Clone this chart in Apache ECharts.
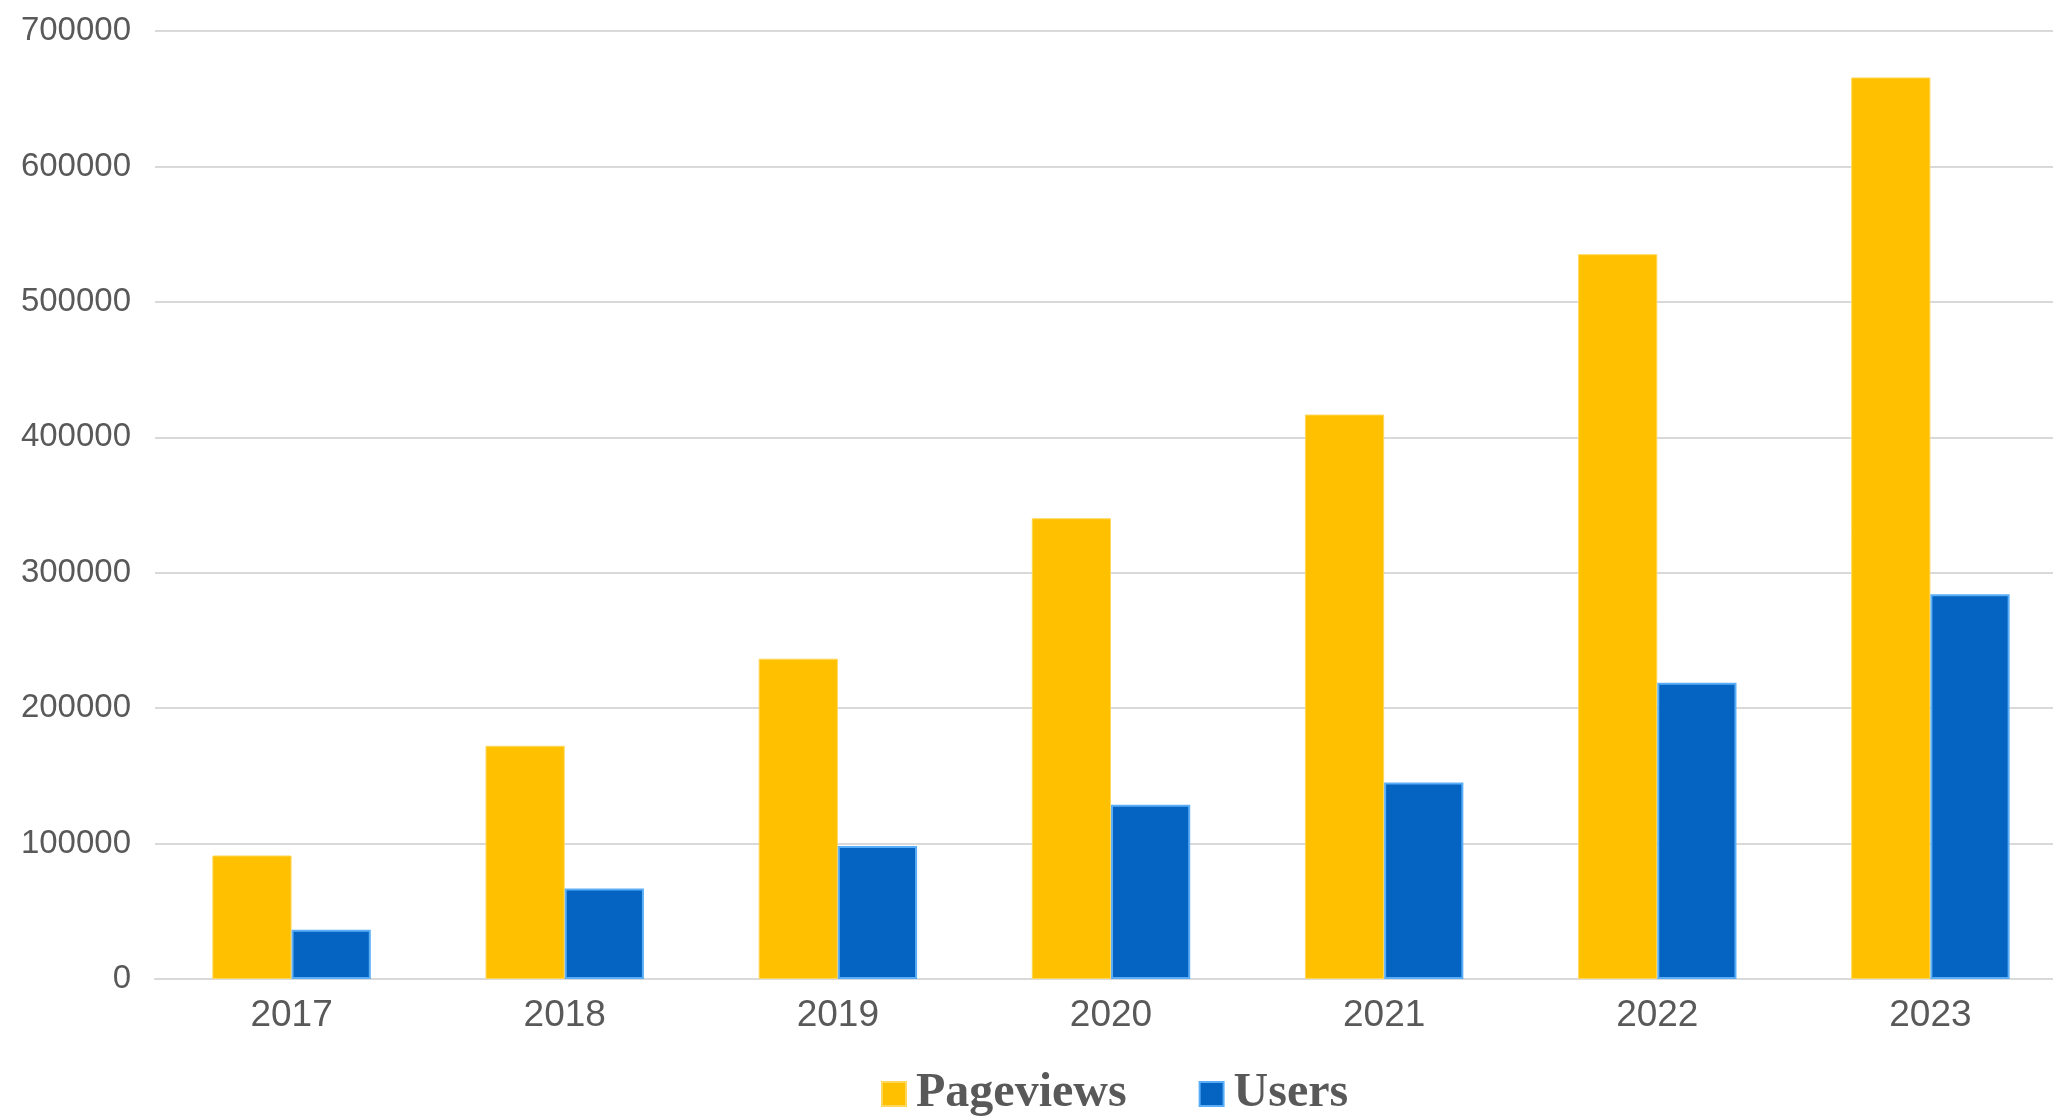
<!DOCTYPE html>
<html>
<head>
<meta charset="utf-8">
<script src="https://cdn.jsdelivr.net/npm/echarts@6/dist/echarts.min.js"></script>
<style>
html,body{margin:0;padding:0;background:#fff;overflow:hidden;}
#chart{width:2053px;height:1117px;}
</style>
</head>
<body>
<div id="chart"></div>
<script>
const categories = ['2017', '2018', '2019', '2020', '2021', '2022', '2023'];
const pageviews = [91200, 172200, 236500, 340200, 416800, 535200, 665700];
const users = [36400, 66900, 98200, 128600, 145100, 218700, 284100];
const seriesNames = ['Pageviews', 'Users'];

const chart = echarts.init(document.getElementById('chart'), null, {renderer: 'canvas'});
chart.setOption({
  animation: false,
  backgroundColor: '#ffffff',
  grid: {left: 155, width: 1912, top: 31, height: 948, containLabel: false, outerBoundsMode: 'none'},
  legend: {
    data: seriesNames,
    left: 876,
    top: 1064,
    itemWidth: 24,
    itemHeight: 24,
    itemGap: 72,
    icon: 'rect',
    textStyle: {
      fontFamily: '"Liberation Serif", "Times New Roman", serif',
      fontWeight: 'bold',
      fontSize: 48,
      lineHeight: 50,
      color: '#595959',
      padding: [0, 0, 0, 5]
    }
  },
  xAxis: {
    type: 'category',
    data: categories,
    axisTick: {show: false},
    axisLine: {lineStyle: {color: '#D9D9D9', width: 2}},
    axisLabel: {
      fontFamily: '"Liberation Sans", Arial, sans-serif',
      fontSize: 37,
      color: '#595959',
      margin: 18
    }
  },
  yAxis: {
    type: 'value',
    min: 0,
    max: 700000,
    interval: 100000,
    axisLine: {show: false},
    axisTick: {show: false},
    splitLine: {lineStyle: {color: '#D9D9D9', width: 2}},
    axisLabel: {
      fontFamily: '"Liberation Sans", Arial, sans-serif',
      fontSize: 33,
      color: '#595959',
      margin: 24,
      padding: [0, 0, 6, 0],
      formatter: function (v) { return String(v); }
    }
  },
  series: [
    {
      name: seriesNames[0],
      type: 'bar',
      data: pageviews,
      barWidth: '29%',
      barGap: '0%',
      itemStyle: {color: '#FFC000', borderColor: '#FFD75A', borderWidth: 1}
    },
    {
      name: seriesNames[1],
      type: 'bar',
      data: users,
      barWidth: '29%',
      barGap: '0%',
      itemStyle: {color: '#0563C1', borderColor: '#5AAEF7', borderWidth: 2}
    }
  ]
});
</script>
</body>
</html>
